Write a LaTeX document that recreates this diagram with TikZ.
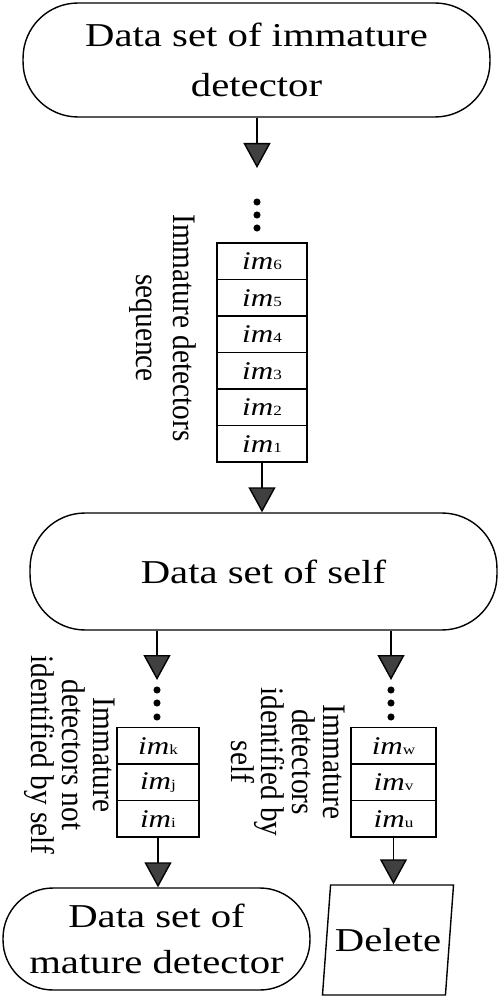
\documentclass[tikz,border=0pt]{standalone}
\usepackage{fontspec}
\setmainfont{Liberation Serif}[FakeStretch=1.22]
\newfontfamily\rotfont{Liberation Serif}
\usetikzlibrary{positioning,arrows.meta,shapes.geometric}

\newcommand\imcell[1]{\textit{im}{\fontsize{8}{8}\selectfont\upshape #1}}
\newcommand\rotsize[1]{\rotfont\fontsize{16.7}{#1}\selectfont\lineskiplimit=-20pt\relax}

\tikzset{
  term/.style={draw, line width=0.8pt, rectangle, rounded corners=1.1cm, align=center, inner sep=0pt,
    font=\fontsize{19}{28}\selectfont},
  cell/.style={draw, line width=0.8pt, rectangle, minimum height=0.73cm, inner sep=0pt,
    font=\fontsize{14.5}{16}\selectfont},
  vlabel/.style={rotate=-90, yscale=1.12, align=center, inner sep=0pt, font={\rotsize{15.7}}},
  flow/.style={line width=0.8pt, -{Triangle[length=0.5cm,width=0.54cm,fill=black!75]}},
}

\begin{document}
\begin{tikzpicture}[x=0.02cm, y=-0.02cm]
\useasboundingbox (0,0) rectangle (500,999);

\def\xa{257}
\def\xb{262}
\def\xl{157}
\def\xr{391}

\def\dy{36.5}
\def\yb{443.75}
\def\yl{818.7}

\node[term, minimum width=9.34cm, minimum height=2.28cm] (imm) at (256.5, 60) {Data set of immature\\detector};
\coordinate (tipa) at (\xa, 168);

\node[cell, minimum width=1.8cm] (c1) at (\xb, \yb) {\imcell{1}};
\node[cell, minimum width=1.8cm] (c2) at (\xb, \yb - \dy) {\imcell{2}};
\node[cell, minimum width=1.8cm] (c3) at (\xb, \yb - 2 * \dy) {\imcell{3}};
\node[cell, minimum width=1.8cm] (c4) at (\xb, \yb - 3 * \dy) {\imcell{4}};
\node[cell, minimum width=1.8cm] (c5) at (\xb, \yb - 4 * \dy) {\imcell{5}};
\node[cell, minimum width=1.8cm] (c6) at (\xb, \yb - 5 * \dy) {\imcell{6}};
\node[vlabel, font={\rotsize{18.8}}] (seq) at (163, 328) {Immature detectors\\sequence};

\node[term, minimum width=9.34cm, minimum height=2.34cm] (self) at (263.5, 571.5) {Data set of self};

\coordinate (tipk) at (\xl, 680);
\coordinate (tipw) at (\xr, 680);

\node[cell, minimum width=1.64cm] (ci) at (158, \yl) {\imcell{i}};
\node[cell, minimum width=1.64cm] (cj) at (158, \yl - \dy) {\imcell{j}};
\node[cell, minimum width=1.64cm] (ck) at (158, \yl - 2 * \dy) {\imcell{k}};
\node[vlabel] (notid) at (70, 755) {Immature\\detectors not\\identified by self};

\node[cell, minimum width=1.7cm] (cu) at (393.5, \yl) {\imcell{u}};
\node[cell, minimum width=1.7cm] (cv) at (393.5, \yl - \dy) {\imcell{v}};
\node[cell, minimum width=1.7cm] (cw) at (393.5, \yl - 2 * \dy) {\imcell{w}};
\node[vlabel] (isid) at (288, 762) {Immature\\detectors\\identified by\\self};

\node[term, rounded corners=1cm, minimum width=6.14cm, minimum height=2.04cm, font=\fontsize{19}{26}\selectfont] (mat) at (156.5, 939) {Data set of\\mature detector};
\node[draw, line width=0.8pt, trapezium, trapezium left angle=78, trapezium right angle=102,
  trapezium stretches=true, minimum width=2.64cm, minimum height=2.2cm, inner xsep=0pt,
  font=\fontsize{19}{20}\selectfont] (del) at (388, 940) {Delete};

\filldraw[black] (\xa, 202) circle (1.8pt);
\filldraw[black] (\xa, 215) circle (1.8pt);
\filldraw[black] (\xa, 228) circle (1.8pt);
\filldraw[black] (\xl, 690) circle (1.8pt);
\filldraw[black] (\xl, 703) circle (1.8pt);
\filldraw[black] (\xl, 717) circle (1.8pt);
\filldraw[black] (\xr, 690) circle (1.8pt);
\filldraw[black] (\xr, 703) circle (1.8pt);
\filldraw[black] (\xr, 717) circle (1.8pt);

\draw[flow] (tipa |- imm.south) -- (tipa);
\draw[flow] (c1.south) -- (c1.south |- self.north);
\draw[flow] (tipk |- self.south) -- (tipk);
\draw[flow] (tipw |- self.south) -- (tipw);
\draw[flow] (ci.south) -- (ci.south |- mat.north);
\draw[flow] (cu.south) -- (cu.south |- del.north);

\end{tikzpicture}
\end{document}
